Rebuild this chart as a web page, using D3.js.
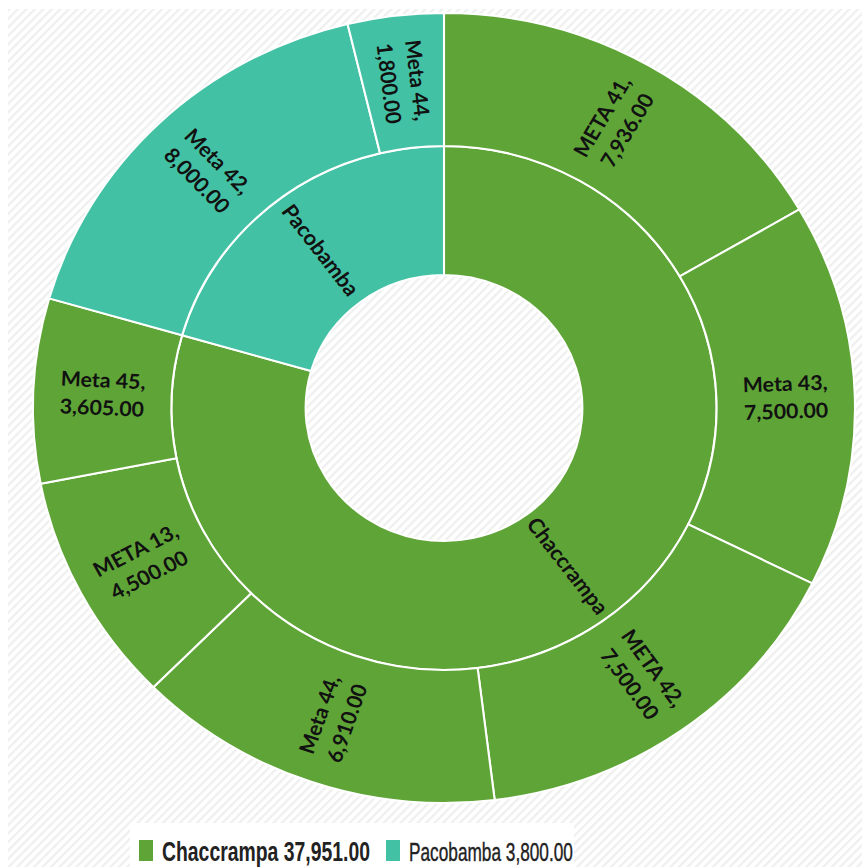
<!DOCTYPE html>
<html>
<head>
<meta charset="utf-8">
<script src="https://cdn.jsdelivr.net/npm/d3@7"></script>
<style>
  html, body { margin: 0; padding: 0; background: #fff; }
  #chart { width: 862px; height: 867px; }
</style>
</head>
<body>
<div id="chart"></div>
<script>
//Colores fijos
const COLOR_GREEN = '#5FA437',
COLOR_TEAL = '#43C1A4';

//Datos
const grupos = ['Chaccrampa', 'Pacobamba'];
const grupoColores = [COLOR_GREEN, COLOR_TEAL];
const metas = ['META 41', 'Meta 43', 'META 42', 'Meta 44', 'META 13', 'Meta 45', 'Meta 42', 'Meta 44'];
const metaGrupo = ['Chaccrampa', 'Chaccrampa', 'Chaccrampa', 'Chaccrampa', 'Chaccrampa', 'Chaccrampa', 'Pacobamba', 'Pacobamba'];
const metaValores = [7936, 7500, 7500, 6910, 4500, 3605, 8000, 1800];
const leyendaTextos = ['Chaccrampa 37,951.00', 'Pacobamba 3,800.00'];

let width = 862, height = 867;
let cx = 444, cy = 408, sx = 411 / 395;
let rHole = 133, rMid = 262, rOuter = 395;

let svg = d3.select('#chart')
    .append('svg')
    .attr('width', width)
    .attr('height', height);

//Fondo rayado
let defs = svg.append('defs');
let pat = defs.append('pattern')
    .attr('id', 'rayas')
    .attr('patternUnits', 'userSpaceOnUse')
    .attr('width', 6)
    .attr('height', 6)
    .attr('patternTransform', 'rotate(45)');
pat.append('rect').attr('width', 6).attr('height', 6).attr('fill', '#fff');
pat.append('rect').attr('x', 0).attr('width', 2.2).attr('height', 6).attr('fill', '#efefef');

svg.append('rect')
    .attr('x', 8).attr('y', 9)
    .attr('width', width - 8).attr('height', height - 9)
    .attr('fill', 'url(#rayas)');

//Jerarquía
let root = d3.hierarchy({
    name: 'root',
    children: grupos.map(function(g) {
        return {
            name: g,
            children: metas.map(function(m, i) { return {name: m, value: metaValores[i], grupo: metaGrupo[i]}; })
                .filter(function(d) { return d.grupo == g; })
        };
    })
}).sum(function(d) { return d.value || 0; });

d3.partition().size([2 * Math.PI, 2])(root);

let color = d3.scaleOrdinal().domain(grupos).range(grupoColores);
let radius = d3.scaleOrdinal().domain([1, 2, 3]).range([rHole, rMid, rOuter]);

let arc = d3.arc()
    .startAngle(function(d) { return d.x0; })
    .endAngle(function(d) { return d.x1; })
    .innerRadius(function(d) { return radius(d.depth); })
    .outerRadius(function(d) { return radius(d.depth + 1); });

let g = svg.append('g')
    .attr('transform', 'translate(' + cx + ',' + cy + ') scale(' + sx + ',1)');

let nodos = root.descendants().filter(function(d) { return d.depth > 0; });

g.selectAll('path')
    .data(nodos)
    .enter()
    .append('path')
    .attr('d', arc)
    .attr('fill', function(d) { return color(d.depth == 1 ? d.data.name : d.parent.data.name); })
    .attr('stroke', '#fff')
    .attr('stroke-width', 2);

function fmt(v) { return d3.format(',.2f')(v); }

//Etiquetas
let etiquetas = g.selectAll('g.lbl')
    .data(nodos)
    .enter()
    .append('g')
    .attr('class', 'lbl')
    .attr('transform', function(d) {
        let a = (d.x0 + d.x1) / 2 * 180 / Math.PI;
        let r = (radius(d.depth) + radius(d.depth + 1)) / 2;
        let rot = a < 180 ? a - 90 : a - 270;
        return 'rotate(' + (a - 90) + ') translate(' + r + ',0) rotate(' + (rot - (a - 90)) + ')';
    });

etiquetas.each(function(d) {
    let t = d3.select(this).append('text')
        .attr('text-anchor', 'middle')
        .attr('font-family', 'Lato, "Open Sans", sans-serif')
        .attr('font-weight', 'bold')
        .attr('fill', '#111');
    if (d.depth == 1) {
        t.attr('font-size', 21).attr('dy', '0.35em').text(d.data.name);
    } else {
        t.attr('font-size', 20.5);
        t.append('tspan').attr('x', 0).attr('dy', '-0.3em').text(d.data.name + ',');
        t.append('tspan').attr('x', 0).attr('dy', '1.35em').text(fmt(d.data.value));
    }
});

//Leyenda
let ley = svg.append('g');
ley.append('rect')
    .attr('x', 130).attr('y', 823)
    .attr('width', 444).attr('height', 44)
    .attr('fill', '#fff');

let legX = d3.scaleOrdinal().domain(grupos).range([139, 386]);
let legSize = d3.scaleOrdinal().domain(grupos).range([28, 25]);
let legLen = d3.scaleOrdinal().domain(grupos).range([208, 164]);
let legWeight = d3.scaleOrdinal().domain(grupos).range(['bold', 'normal']);

grupos.forEach(function(gr, i) {
    ley.append('rect')
        .attr('x', legX(gr)).attr('y', 840)
        .attr('width', 14).attr('height', 21)
        .attr('fill', color(gr));
    let tg = ley.append('g')
        .attr('transform', 'translate(' + (legX(gr) + 23) + ',861)');
    let t = tg.append('text')
        .attr('font-family', '"Liberation Sans", Arial, sans-serif')
        .attr('font-weight', legWeight(gr))
        .attr('font-size', legSize(gr))
        .attr('stroke', gr == 'Pacobamba' ? '#222' : 'none')
        .attr('stroke-width', 0.4)
        .attr('fill', '#222')
        .text(leyendaTextos[i]);
    //Texto estrecho (como Arial Narrow)
    let w = t.node().getComputedTextLength();
    t.attr('transform', 'scale(' + (legLen(gr) / w) + ',1)');
});
</script>
</body>
</html>
